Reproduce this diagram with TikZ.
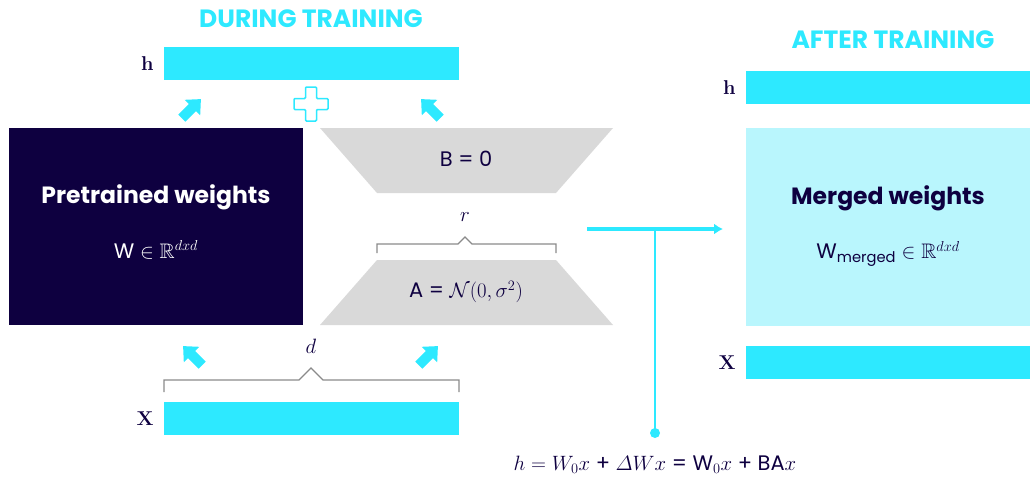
\documentclass[tikz,border=0pt]{standalone}
\usepackage{amsmath,amssymb}
\usepackage{fontspec}
\setsansfont{Poppins}
\usetikzlibrary{arrows.meta,positioning}
\definecolor{loracyan}{HTML}{2DE9FF}
\definecolor{loranavy}{HTML}{0E0040}
\definecolor{loragray}{HTML}{D9D9D9}
\definecolor{loralight}{HTML}{B9F6FD}
\definecolor{bracegray}{HTML}{8A8A8A}
\tikzset{
  bar/.style={fill=loracyan, minimum height=33pt, inner sep=0pt},
  vecname/.style={font=\fontsize{20}{20}\selectfont\rmfamily\bfseries, text=loranavy, inner sep=0pt},
  heading/.style={font=\fontsize{25}{25}\selectfont\sffamily\bfseries, text=loracyan},
  boxtitle/.style={font=\fontsize{23.5}{23.5}\selectfont\sffamily\bfseries},
  boxmath/.style={font=\fontsize{21}{21}\selectfont\sffamily},
  brace/.style={draw=bracegray, line width=1.3pt},
}
\newcommand{\fatarrow}{%
  \fill[loracyan] (0,-14) -- (11,-2) -- (5,-2) -- (5,13) -- (-5,13) -- (-5,-2) -- (-11,-2) -- cycle;}
\begin{document}
\begin{tikzpicture}[x=1pt, y=-1pt]
  \useasboundingbox (0,0) rectangle (1030,480);

  \node[heading] (during) at (311,19) {DURING TRAINING};
  \node[bar, minimum width=295pt] (hin) at (311.5,63.5) {};
  \node[vecname, left=10pt of hin] (hlbl) {h};
  \node[bar, minimum width=295pt] (xin) at (311.5,418.5) {};
  \node[vecname, left=10pt of xin] (xlbl) {X};

  \node[fill=loranavy, minimum width=294pt, minimum height=197pt, inner sep=0pt] (pre) at (156,226.5) {};
  \node[boxtitle, text=white] (pretitle) at (156,197) {Pretrained weights};
  \node[boxmath, text=white] (prew) at (156,250) {W $\in \mathbb{R}^{dxd}$};

  \fill[loragray] (320,128) -- (613,128) -- (556,193) -- (377,193) -- cycle;
  \node[boxmath, text=loranavy] (bzero) at (466,159) {B = 0};
  \fill[loragray] (377,260) -- (556,260) -- (613,325) -- (320,325) -- cycle;
  \node[boxmath, text=loranavy] (ainit) at (466,292) {A = $\mathcal{N}(0,\sigma^2)$};

  \draw[brace] (377,253) -- (377,244) -- (458,244) -- (465,237) -- (472,244) -- (556,244) -- (556,253);
  \node[font=\fontsize{22}{22}\selectfont, text=loranavy] (rank) at (465,217) {$r$};
  \draw[brace] (164,392) -- (164,380) -- (299,380) -- (311,368) -- (323,380) -- (459,380) -- (459,392);
  \node[font=\fontsize{22}{22}\selectfont, text=loranavy] (dim) at (311,346) {$d$};

  \begin{scope}[shift={(191,109)}, rotate=-45]
    \fatarrow
  \end{scope}
  \begin{scope}[shift={(431,109)}, rotate=45]
    \fatarrow
  \end{scope}
  \begin{scope}[shift={(193,356)}, rotate=45]
    \fatarrow
  \end{scope}
  \begin{scope}[shift={(428,356)}, rotate=-45]
    \fatarrow
  \end{scope}
  \begin{scope}[shift={(311,104)}]
    \draw[loracyan, line width=1.5pt, fill=white, rounded corners=1pt] (-5.5,-17) -- (5.5,-17) -- (5.5,-5.5) -- (17,-5.5) -- (17,5.5) -- (5.5,5.5) -- (5.5,17) -- (-5.5,17) -- (-5.5,5.5) -- (-17,5.5) -- (-17,-5.5) -- (-5.5,-5.5) -- cycle;
  \end{scope}

  \coordinate (mergestart) at (587,229);
  \coordinate (mergeend) at (723,229);
  \coordinate (tee) at (655,229);
  \coordinate (eqdot) at (655,433);
  \draw[loracyan, line width=3.5pt, -{Latex[length=9pt,width=11pt]}] (mergestart) -- (mergeend);
  \draw[loracyan, line width=1.5pt] (tee) -- (eqdot);
  \fill[loracyan] (eqdot) circle (5pt);
  \node[font=\fontsize{21}{21}\selectfont\sffamily, text=loranavy] (formula) at (655,465)
    {$h = W_0x$ + $\varDelta Wx$ = W$_0x$ + BA$x$};

  \node[heading] (after) at (893,40) {AFTER TRAINING};
  \node[bar, minimum width=284pt] (hout) at (888,87.5) {};
  \node[vecname, left=10pt of hout] (hlbl2) {h};
  \node[fill=loralight, minimum width=284pt, minimum height=198pt, inner sep=0pt] (merged) at (888,226.5) {};
  \node[boxtitle, text=loranavy] (mergedtitle) at (888,198) {Merged weights};
  \node[boxmath, text=loranavy] (mergedw) at (888,254) {W\textsubscript{merged} $\in \mathbb{R}^{dxd}$};
  \node[bar, minimum width=284pt] (xout) at (888,362.5) {};
  \node[vecname, left=10pt of xout] (xlbl2) {X};
\end{tikzpicture}
\end{document}
